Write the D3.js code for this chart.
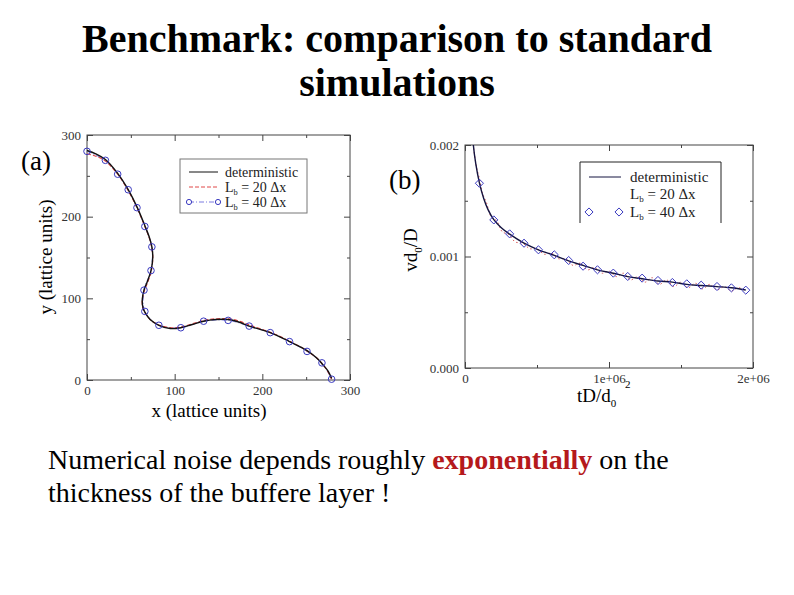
<!DOCTYPE html>
<html>
<head>
<meta charset="utf-8">
<script src="https://cdn.jsdelivr.net/npm/d3@7"></script>
<style>
  body { margin: 0; background: #fff; }
  svg text { font-family: "Liberation Serif", "Times New Roman", serif; }
</style>
</head>
<body>
<svg id="slide" width="794" height="595"></svg>
<script>
// ---- panel (a): interface shape, x / y in lattice units ----
const aDetX = [0, 10, 21, 35, 47, 57, 66, 71, 74, 75, 73, 69, 65, 63, 64, 66, 72, 82, 95, 107, 120, 133, 147, 161, 173, 185, 209, 231, 251, 262, 268, 275, 279];
const aDetY = [281, 277, 270, 253, 233, 212, 189, 175, 163, 150, 134, 121, 110, 98, 88, 83, 74, 67, 63, 64, 68, 72, 74, 74, 71, 66, 58, 47, 36, 27, 20, 11, 2];

const a20X = [0, 10, 21, 35, 47, 57, 66, 71, 74, 75, 73, 69, 65, 63, 64, 67, 73, 83, 96, 108, 121, 134, 148, 162, 174, 186, 210, 232, 252, 263, 269, 275, 279];
const a20Y = [277, 274, 268, 252, 232, 211, 188, 174, 161, 148, 132, 119, 108, 97, 87, 81, 73, 67, 64, 65, 69, 73, 75, 75, 72, 67, 58, 47, 35, 26, 19, 10, 1];

const a40X = [0, 21, 35, 47, 57, 66, 74, 73, 65, 66, 82, 107, 133, 161, 185, 209, 231, 251, 268, 279];
const a40Y = [280, 269, 252, 233, 211, 188, 163, 134, 110, 84, 67, 64, 72, 73, 66, 58, 47, 35, 21, 1];

// ---- panel (b): velocity vs time ----
const bDetT = [0.045e6, 0.058e6, 0.075e6, 0.1e6, 0.13e6, 0.16e6, 0.2e6, 0.25e6, 0.31e6, 0.41e6, 0.51e6, 0.62e6, 0.72e6, 0.82e6, 0.92e6, 1.03e6, 1.13e6, 1.23e6, 1.34e6, 1.44e6, 1.54e6, 1.64e6, 1.75e6, 1.85e6, 1.95e6];
const bDetV = [0.0023, 0.0020, 0.00183, 0.00166, 0.00152, 0.00142, 0.00133, 0.00126, 0.00120, 0.00112, 0.00106, 0.00101, 0.00096, 0.00092, 0.00088, 0.00085, 0.00082, 0.00080, 0.00078, 0.00077, 0.00075, 0.00074, 0.00073, 0.00072, 0.00070];

const b20T = [0.06e6, 0.08e6, 0.1e6, 0.12e6, 0.15e6, 0.18e6, 0.22e6, 0.26e6, 0.3e6, 0.35e6, 0.4e6, 0.45e6, 0.5e6, 0.55e6, 0.6e6, 0.65e6, 0.7e6, 0.75e6, 0.8e6, 0.85e6, 0.9e6, 0.95e6, 1.0e6, 1.05e6, 1.1e6, 1.15e6, 1.2e6, 1.25e6, 1.3e6, 1.35e6, 1.4e6, 1.45e6, 1.5e6, 1.55e6, 1.6e6, 1.65e6, 1.7e6, 1.75e6, 1.8e6, 1.85e6, 1.9e6, 1.95e6];
const b20V = [0.00197, 0.00180, 0.00170, 0.00157, 0.00148, 0.00136, 0.00132, 0.00122, 0.00120, 0.00113, 0.00112, 0.00107, 0.00107, 0.00102, 0.00103, 0.00098, 0.00098, 0.00092, 0.00094, 0.00088, 0.00090, 0.00085, 0.00087, 0.00082, 0.00085, 0.00079, 0.00082, 0.00077, 0.00081, 0.00075, 0.00079, 0.00073, 0.00077, 0.00072, 0.00076, 0.00071, 0.00075, 0.00070, 0.00073, 0.00069, 0.00072, 0.00069];

const b40T = [0.10e6, 0.20e6, 0.31e6, 0.41e6, 0.51e6, 0.62e6, 0.72e6, 0.82e6, 0.92e6, 1.03e6, 1.13e6, 1.23e6, 1.34e6, 1.44e6, 1.54e6, 1.64e6, 1.75e6, 1.85e6, 1.95e6];
const b40V = [0.001657, 0.001328, 0.001203, 0.001119, 0.00106, 0.001015, 0.000964, 0.000913, 0.000881, 0.000851, 0.000821, 0.000806, 0.000785, 0.000767, 0.000755, 0.000743, 0.000731, 0.000719, 0.000698];

// tick values
const aMajor = [0, 100, 200, 300];
const aMinor = [50, 150, 250];
const bXMajor = [0, 1e6, 2e6];
const bXMinor = [0.5e6, 1.5e6];
const bYMajor = [0, 0.001, 0.002];
const bYMinor = [0.0005, 0.0015];

const zip = (xs, ys) => xs.map((v, i) => [v, ys[i]]);

const svg = d3.select("#slide");

// ---- title ----
svg.append("text")
  .attr("x", 397).attr("y", 52)
  .attr("text-anchor", "middle")
  .attr("font-size", 40).attr("font-weight", "bold")
  .text("Benchmark: comparison to standard");
svg.append("text")
  .attr("x", 397).attr("y", 96)
  .attr("text-anchor", "middle")
  .attr("font-size", 40).attr("font-weight", "bold")
  .text("simulations");

// draws framed axes with inward ticks on all four sides
const drawAxes = (g, x, y, xMajor, xMinor, yMajor, yMinor, xFmt, yFmt) => {
  const [xa, xb] = x.range();
  const [yb, ya] = y.range();
  const blank = () => "";

  const put = (axis, vals, size, fmt, tr) =>
    g.append("g")
      .attr("transform", tr)
      .call(axis.tickValues(vals).tickSize(size).tickSizeOuter(0).tickPadding(6).tickFormat(fmt))
      .call(s => s.select(".domain").remove())
      .call(s => s.selectAll("line").attr("stroke", "#444"))
      .call(s => s.selectAll("text")
        .attr("font-family", "Liberation Serif")
        .attr("font-size", 13)
        .attr("fill", "#333"));

  put(d3.axisBottom(x), xMajor, -6, xFmt, `translate(0,${yb})`);
  put(d3.axisBottom(x), xMinor, -3, blank, `translate(0,${yb})`);
  put(d3.axisTop(x), xMajor, -6, blank, `translate(0,${ya})`);
  put(d3.axisTop(x), xMinor, -3, blank, `translate(0,${ya})`);
  put(d3.axisLeft(y), yMajor, -6, yFmt, `translate(${xa},0)`);
  put(d3.axisLeft(y), yMinor, -3, blank, `translate(${xa},0)`);
  put(d3.axisRight(y), yMajor, -6, blank, `translate(${xb},0)`);
  put(d3.axisRight(y), yMinor, -3, blank, `translate(${xb},0)`);

  g.append("rect")
    .attr("x", xa).attr("y", ya)
    .attr("width", xb - xa).attr("height", yb - ya)
    .attr("fill", "none").attr("stroke", "#444").attr("stroke-width", 1);
};

// ================= panel (a) =================
const xA = d3.scaleLinear().domain([0, 300]).range([87, 350]);
const yA = d3.scaleLinear().domain([0, 300]).range([380, 135]);
const gA = svg.append("g");

drawAxes(gA, xA, yA, aMajor, aMinor, aMajor, aMinor, d3.format("d"), d3.format("d"));

const lineA = d3.line()
  .x(d => xA(d[0])).y(d => yA(d[1]))
  .curve(d3.curveCatmullRom.alpha(0.5));

gA.append("path")
  .attr("d", lineA(zip(a40X, a40Y)))
  .attr("fill", "none").attr("stroke", "#7a7ae0")
  .attr("stroke-width", 1).attr("stroke-dasharray", "5,2,1,2");
gA.append("path")
  .attr("d", lineA(zip(a20X, a20Y)))
  .attr("fill", "none").attr("stroke", "#e04848")
  .attr("stroke-width", 1.2).attr("stroke-dasharray", "4,2");
gA.append("path")
  .attr("d", lineA(zip(aDetX, aDetY)))
  .attr("fill", "none").attr("stroke", "#111")
  .attr("stroke-width", 1.4);
gA.selectAll(".mA")
  .data(zip(a40X, a40Y))
  .join("circle")
    .attr("class", "mA")
    .attr("cx", d => xA(d[0])).attr("cy", d => yA(d[1]))
    .attr("r", 3.3)
    .attr("fill", "none").attr("stroke", "#3a3ac0").attr("stroke-width", 1);

// axis titles (a)
gA.append("text")
  .attr("x", 209).attr("y", 417)
  .attr("text-anchor", "middle").attr("font-size", 19)
  .text("x (lattice units)");
gA.append("text")
  .attr("transform", "translate(52,257) rotate(-90)")
  .attr("text-anchor", "middle").attr("font-size", 19)
  .text("y (lattice units)");
gA.append("text")
  .attr("x", 21).attr("y", 170)
  .attr("font-size", 27)
  .text("(a)");

// legend (a)
const legA = gA.append("g");
legA.append("rect")
  .attr("x", 180).attr("y", 159).attr("width", 127).attr("height", 54)
  .attr("fill", "#fff").attr("stroke", "#777");
const legAItems = ["det", "20", "40"];
const legAY = d3.scalePoint().domain(legAItems).range([172, 202]);
legA.append("line")
  .attr("x1", 189).attr("x2", 218).attr("y1", legAY("det")).attr("y2", legAY("det"))
  .attr("stroke", "#111");
legA.append("line")
  .attr("x1", 189).attr("x2", 218).attr("y1", legAY("20")).attr("y2", legAY("20"))
  .attr("stroke", "#e04848").attr("stroke-dasharray", "4,2");
legA.append("line")
  .attr("x1", 189).attr("x2", 218).attr("y1", legAY("40")).attr("y2", legAY("40"))
  .attr("stroke", "#7a7ae0").attr("stroke-dasharray", "5,2,1,2");
[189, 218].forEach(cx => legA.append("circle")
  .attr("cx", cx).attr("cy", legAY("40")).attr("r", 2.6)
  .attr("fill", "#fff").attr("stroke", "#3a3ac0"));

const legendLabel = (g, x, y, kind, size) => {
  const t = g.append("text").attr("x", x).attr("y", y + 4.5).attr("font-size", size).attr("fill", "#222");
  if (kind === "det") { t.text("deterministic"); return; }
  t.append("tspan").text("L");
  t.append("tspan").attr("font-size", size * 0.6).attr("dy", 3).text("b");
  t.append("tspan").attr("dy", -3).text(` = ${kind} \u0394x`);
};
legAItems.forEach(k => legendLabel(legA, 225, legAY(k), k, 14));

// ================= panel (b) =================
const xB = d3.scaleLinear().domain([0, 2e6]).range([465, 753]);
const yB = d3.scaleLinear().domain([0, 0.002]).range([368, 145]);
const gB = svg.append("g");

gB.append("clipPath").attr("id", "clipB")
  .append("rect").attr("x", 465).attr("y", 145).attr("width", 288).attr("height", 223);

const sciFmt = v => v === 0 ? "0" : d3.format(".0e")(v).replace("e+", "e+0");
drawAxes(gB, xB, yB, bXMajor, bXMinor, bYMajor, bYMinor, sciFmt, d3.format(".3f"));

const lineB = d3.line()
  .x(d => xB(d[0])).y(d => yB(d[1]))
  .curve(d3.curveCatmullRom.alpha(0.5));

const plotB = gB.append("g").attr("clip-path", "url(#clipB)");
plotB.append("path")
  .attr("d", lineB(zip(b20T, b20V)))
  .attr("fill", "none").attr("stroke", "#d85a5a")
  .attr("stroke-width", 1).attr("stroke-dasharray", "1.5,2.5");
plotB.append("path")
  .attr("d", lineB(zip(bDetT, bDetV)))
  .attr("fill", "none").attr("stroke", "#141440")
  .attr("stroke-width", 1.4);

const diamond = d3.symbol().type(d3.symbolDiamond2).size(42);
plotB.selectAll(".mB")
  .data(zip(b40T, b40V))
  .join("path")
    .attr("class", "mB")
    .attr("d", diamond)
    .attr("transform", d => `translate(${xB(d[0])},${yB(d[1])})`)
    .attr("fill", "none").attr("stroke", "#3a3ac0").attr("stroke-width", 1);

// axis titles (b)
const xt = gB.append("text")
  .attr("x", 577).attr("y", 402).attr("font-size", 19);
xt.append("tspan").text("tD/d");
xt.append("tspan").attr("font-size", 11).attr("dy", 5).text("0");
gB.append("text")
  .attr("x", 625).attr("y", 388).attr("font-size", 11).text("2");

const yt = gB.append("text")
  .attr("transform", "translate(417,250) rotate(-90)")
  .attr("text-anchor", "middle").attr("font-size", 19);
yt.append("tspan").text("vd");
yt.append("tspan").attr("font-size", 11).attr("dy", 5).text("0");
yt.append("tspan").attr("dy", -5).text("/D");

gB.append("text")
  .attr("x", 389).attr("y", 189)
  .attr("font-size", 27)
  .text("(b)");

// legend (b): box is open at the bottom
const legB = gB.append("g");
legB.append("rect")
  .attr("x", 580).attr("y", 162).attr("width", 141).attr("height", 61)
  .attr("fill", "#fff").attr("stroke", "none");
legB.append("path")
  .attr("d", "M580,223V162H721V223")
  .attr("fill", "none").attr("stroke", "#222");
const legBItems = ["det", "20", "40"];
const legBY = d3.scalePoint().domain(legBItems).range([177, 212]);
legB.append("line")
  .attr("x1", 589).attr("x2", 621).attr("y1", legBY("det")).attr("y2", legBY("det"))
  .attr("stroke", "#141440");
[589, 619].forEach(cx => legB.append("path")
  .attr("d", diamond)
  .attr("transform", `translate(${cx},${legBY("40")})`)
  .attr("fill", "none").attr("stroke", "#3a3ac0"));
legBItems.forEach(k => legendLabel(legB, 630, legBY(k), k, 15));

// ---- caption ----
const cap = svg.append("text")
  .attr("x", 48).attr("y", 469).attr("font-size", 28);
cap.append("tspan").text("Numerical noise depends roughly ");
cap.append("tspan").attr("font-weight", "bold").attr("fill", "#b5191c").text("exponentially");
cap.append("tspan").text(" on the");
svg.append("text")
  .attr("x", 48).attr("y", 502).attr("font-size", 28)
  .text("thickness of the buffere layer !");
</script>
</body>
</html>
